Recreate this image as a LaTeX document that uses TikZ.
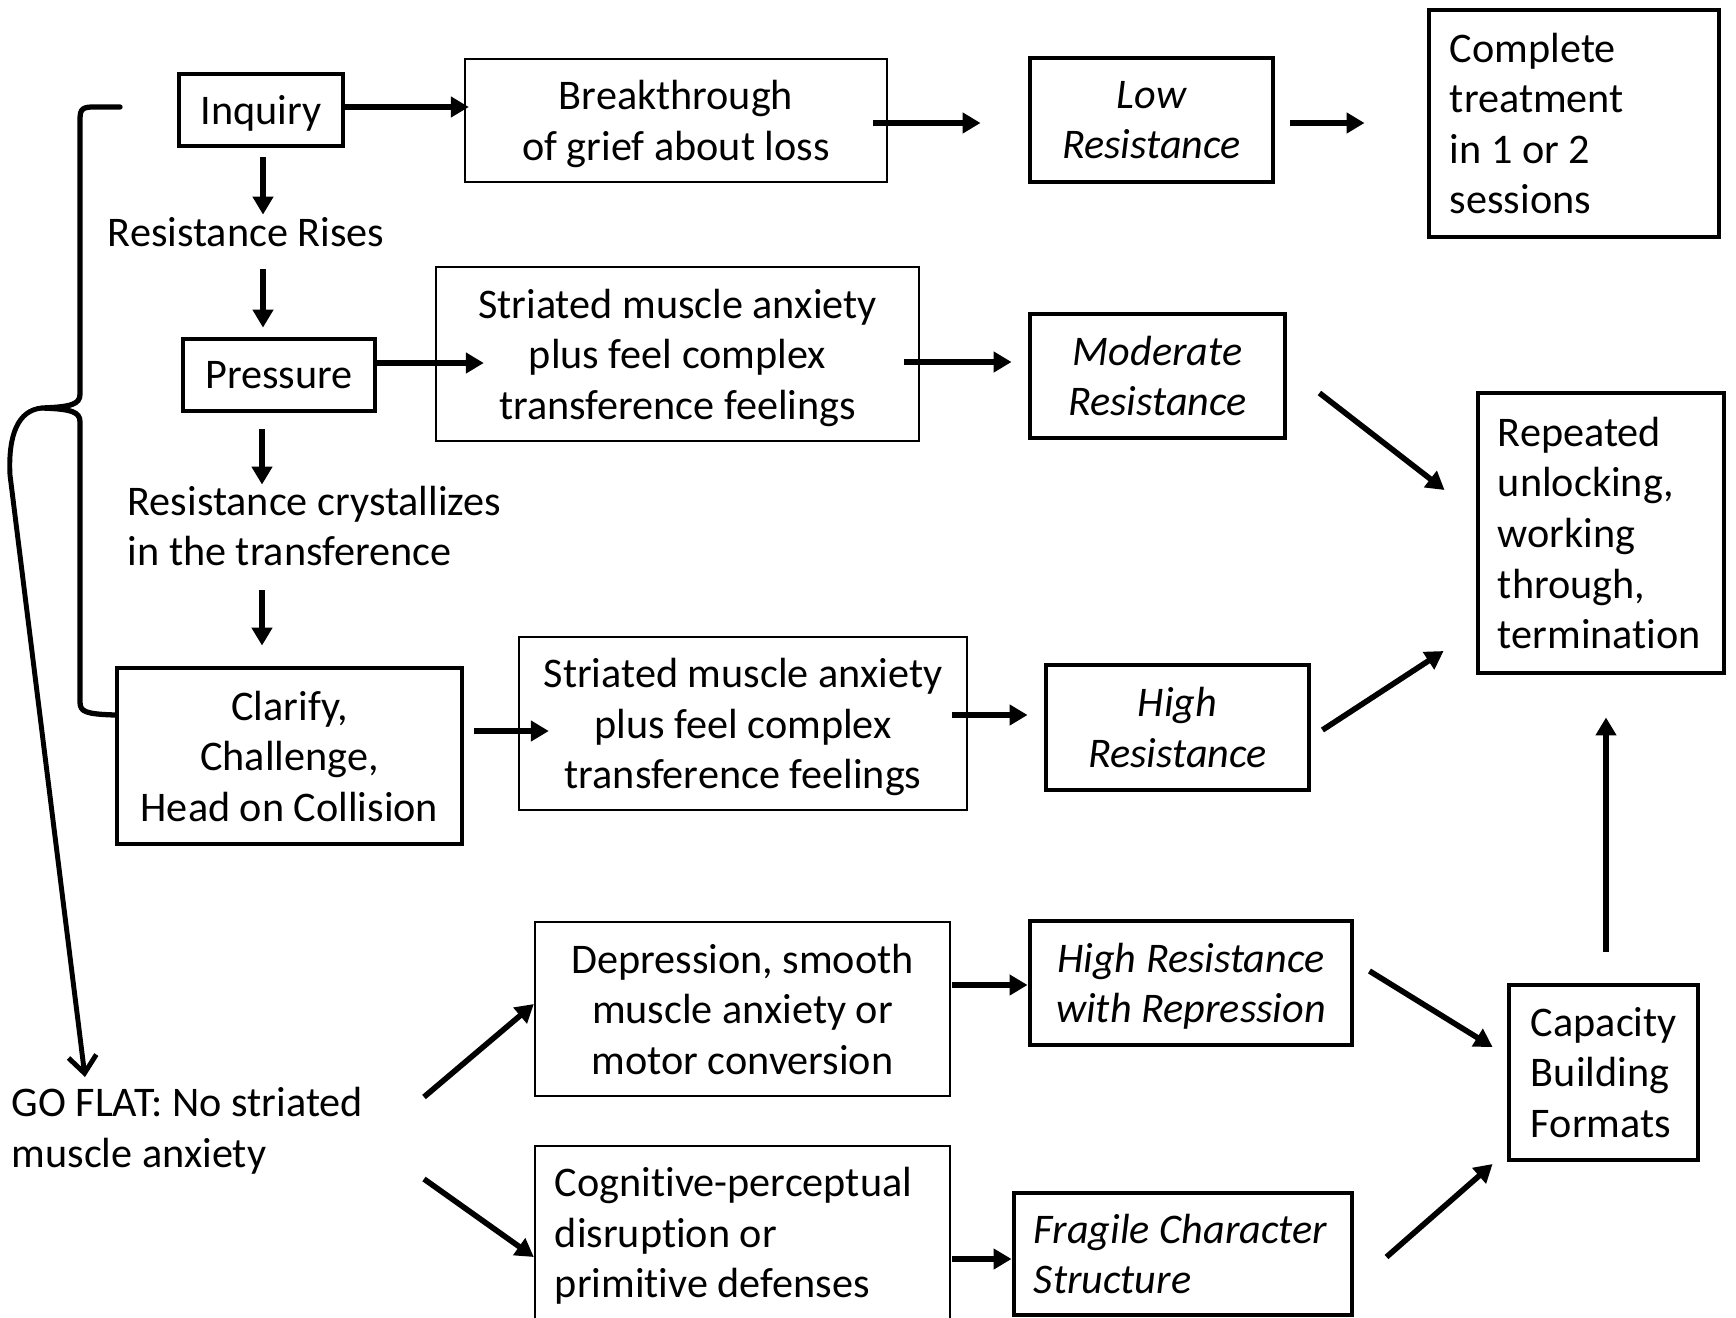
\documentclass[tikz,border=0pt]{standalone}
\usepackage{fontspec}
\setmainfont{Carlito}[Ligatures=NoCommon]
\usetikzlibrary{arrows.meta,calc}
\newcommand{\diagfont}{\fontsize{12pt}{14.4pt}\selectfont}

\begin{document}
\begin{tikzpicture}[x=0.01cm, y=-0.01cm,
  tbox/.style={draw, rectangle, line width=1.35pt, inner sep=0pt, font=\diagfont},
  nbox/.style={draw, rectangle, line width=0.6pt, inner sep=0pt, font=\diagfont},
  itbox/.style={tbox, font=\diagfont\itshape},
  ctr/.style={align=center, text depth=0pt},
  lft/.style={align=flush left},
  lbl/.style={inner sep=0pt, align=left, font=\diagfont},
  arr/.style={-{Triangle[length=0.18cm,width=0.2cm]}, line width=1.6pt},
  bracestroke/.style={line width=1.5pt, line cap=round, line join=round},
  curvarr/.style={-{Straight Barb[length=0.17cm,width=0.28cm,line width=1.4pt]}, line width=1.4pt}
]
\path[use as bounding box] (0,0) rectangle (1736,1318);
\clip (0,0) rectangle (1736,1318);

% boxes, first row
\node[tbox, ctr, minimum width=1.64cm, minimum height=0.72cm] (inq) at (261,110) {Inquiry};
\node[nbox, ctr, minimum width=4.22cm, minimum height=1.23cm] (brk) at (676,120.5) {Breakthrough\\of grief about loss};
\node[itbox, ctr, minimum width=2.43cm, minimum height=1.24cm] (low) at (1151.5,120) {Low\\Resistance};
\node[tbox, lft, text width=2.48cm, inner xsep=0.21cm, minimum height=2.27cm] (cmp) at (1574,123.5) {Complete\\treatment\\in 1 or 2\\sessions};

% second row
\node[tbox, ctr, minimum width=1.92cm, minimum height=0.72cm] (pre) at (279,375) {Pressure};
\node[nbox, ctr, minimum width=4.83cm, minimum height=1.74cm] (str1) at (677.5,354) {Striated muscle anxiety\\plus feel complex\\transference feelings};
\node[itbox, ctr, minimum width=2.55cm, minimum height=1.24cm] (mod) at (1157.5,376) {Moderate\\Resistance};
\node[tbox, lft, text width=2.06cm, inner xsep=0.20cm, minimum height=2.80cm] (rep) at (1601,533) {Repeated\\unlocking,\\working\\through,\\termination};

% third row
\node[tbox, ctr, minimum width=3.45cm, minimum height=1.76cm] (cla) at (289.5,756) {Clarify,\\Challenge,\\Head on Collision};
\node[nbox, ctr, minimum width=4.48cm, minimum height=1.73cm] (str2) at (743,723.5) {Striated muscle anxiety\\plus feel complex\\transference feelings};
\node[itbox, ctr, minimum width=2.63cm, minimum height=1.25cm] (high) at (1177.5,727.5) {High\\Resistance};

% lower rows
\node[nbox, ctr, minimum width=4.15cm, minimum height=1.74cm] (dep) at (742.5,1009) {Depression, smooth\\muscle anxiety or\\motor conversion};
\node[itbox, ctr, minimum width=3.22cm, minimum height=1.24cm] (hrr) at (1191,983) {High Resistance\\with Repression};
\node[tbox, lft, text width=1.45cm, inner xsep=0.22cm, minimum height=1.75cm] (cap) at (1603.5,1072.5) {Capacity\\Building\\Formats};
\node[nbox, lft, text width=3.75cm, inner xsep=0.20cm, minimum height=1.80cm] (cog) at (742.5,1236) {Cognitive-perceptual\\disruption or\\primitive defenses};
\node[itbox, lft, text width=2.98cm, inner xsep=0.20cm, minimum height=1.22cm] (frag) at (1183,1254) {Fragile Character\\Structure};

% free labels
\node[lbl] (rises) at (246,232) {Resistance Rises};
\node[lbl, anchor=west] (crys) at (127,526) {Resistance crystallizes\\in the transference};
\node[lbl, anchor=west] (goflat) at (11,1131) {GO FLAT: No striated\\muscle anxiety};

% brace joining Inquiry to Clarify
\coordinate (bracetop) at (120,107);
\coordinate (bracetip) at (42,408);
\draw[bracestroke] (bracetop) -- (92,107) .. controls (80,107) and (80,112) .. (80,122)
  -- (80,394) .. controls (80,404) and (72,407) .. (bracetip)
  .. controls (72,409) and (80,412) .. (80,422)
  -- (80,702) .. controls (80,712) and (86,714) .. ($(cla.west)+(0,-41)$);
\draw[curvarr] (bracetip) .. controls (18,410) and (8,435) .. (10,475) -- ($(goflat.west)+(74,-54)$);

% main column arrows
\draw[arr] ($(inq.east)+(0,-3)$) -- ($(brk.west)+(5,-13.5)$);
\draw[arr] ($(brk.east)+(-15,2.5)$) -- ($(low.west)+(-47,3)$);
\draw[arr] ($(low.east)+(15,3)$) -- ($(cmp.west)+(-62,-0.5)$);
\draw[arr] ($(inq.south)+(2,9)$) -- ($(pre.north)+(-16,-122)$);
\draw[arr] ($(inq.south)+(2,121)$) -- ($(pre.north)+(-16,-9)$);
\draw[arr] ($(pre.east)+(0,-12)$) -- ($(str1.west)+(49,9)$);
\draw[arr] ($(pre.south)+(-17,16)$) -- ($(cla.north)+(-27.5,-181)$);
\draw[arr] ($(pre.south)+(-17,177)$) -- ($(cla.north)+(-27.5,-20)$);
\draw[arr] ($(str1.east)+(-16,8)$) -- ($(mod.west)+(-16,-14)$);
\draw[arr] ($(mod.east)+(32,17)$) -- ($(rep.west)+(-31,-43)$);
\draw[arr] ($(high.east)+(11,2.5)$) -- ($(rep.west)+(-32,118)$);
\draw[arr] ($(cla.east)+(10,-25)$) -- ($(str2.west)+(31,7.5)$);
\draw[arr] ($(str2.east)+(-16,-8.5)$) -- ($(high.west)+(-16,-12.5)$);
\draw[arr] ($(cap.north)+(2.5,-31)$) -- ($(rep.south)+(5,42)$);

% lower branch arrows
\draw[arr] ($(goflat.west)+(413,-34)$) -- ($(dep.west)+(0,-5)$);
\draw[arr] ($(goflat.west)+(413,48)$) -- ($(cog.west)+(0,21)$);
\draw[arr] ($(dep.east)+(1,-24)$) -- ($(hrr.west)+(0,2)$);
\draw[arr] ($(cog.east)+(1,23)$) -- ($(frag.west)+(0,5)$);
\draw[arr] ($(hrr.east)+(15,-12)$) -- ($(cap.west)+(-14,-25.5)$);
\draw[arr] ($(frag.east)+(32,3)$) -- ($(cap.west)+(-14,91.5)$);
\end{tikzpicture}
\end{document}
